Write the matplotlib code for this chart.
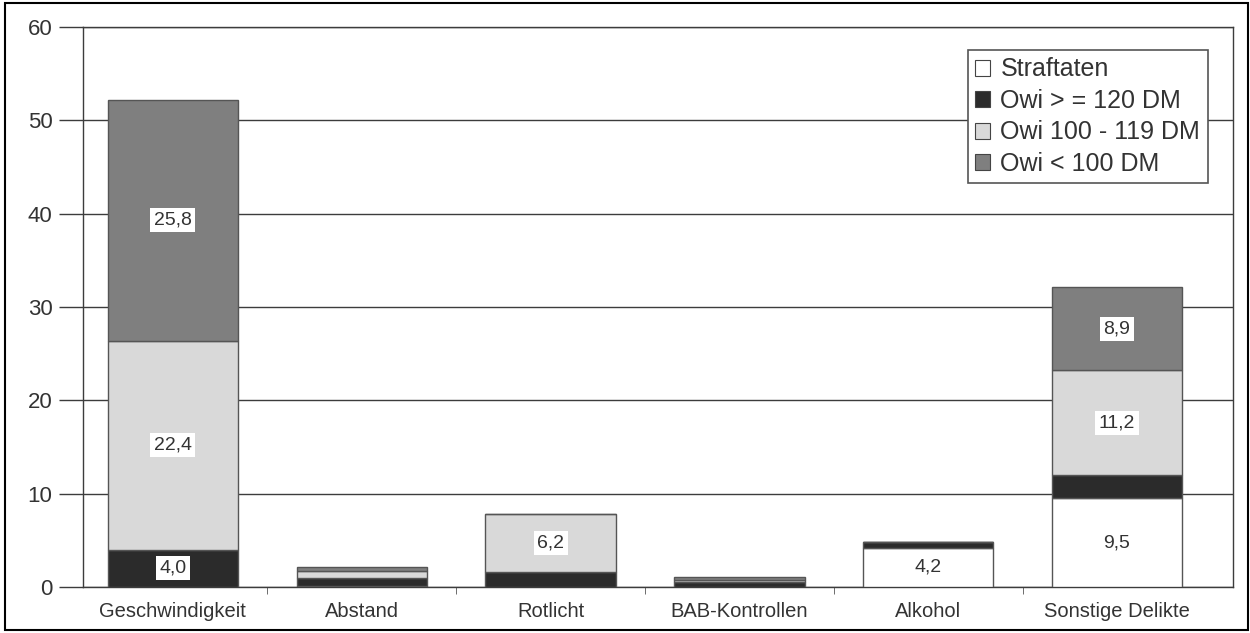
import matplotlib.pyplot as plt
import numpy as np
from matplotlib.patches import Rectangle, Patch

plt.rcParams['font.family'] = ['Liberation Sans', 'DejaVu Sans']

kategorien = ["Geschwindigkeit", "Abstand", "Rotlicht", "BAB-Kontrollen", "Alkohol", "Sonstige Delikte"]
serien = ["Straftaten", "Owi > = 120 DM", "Owi 100 - 119 DM", "Owi < 100 DM"]

straftaten = [0.0, 0.1, 0.0, 0.0, 4.2, 9.5]
owi_120 = [4.0, 0.9, 1.6, 0.5, 0.6, 2.5]
owi_100_119 = [22.4, 0.7, 6.2, 0.2, 0.0, 11.2]
owi_unter_100 = [25.8, 0.4, 0.0, 0.4, 0.0, 8.9]

# which segments get a value label
beschriftet = [
    [False, False, False, False, True, True],
    [True, False, False, False, False, False],
    [True, False, True, False, False, True],
    [True, False, False, False, False, True],
]

farben = ["#ffffff", "#2b2b2b", "#d9d9d9", "#7f7f7f"]

fig = plt.figure(figsize=(12.5, 6.33), dpi=100)
ax = fig.add_axes([0.0664, 0.0727, 0.92, 0.8846])

x = np.arange(len(kategorien))
breite = 0.69
unten = np.zeros(len(kategorien))
werte = [straftaten, owi_120, owi_100_119, owi_unter_100]

for i, (w, f) in enumerate(zip(werte, farben)):
    w = np.array(w)
    ax.bar(x, w, breite, bottom=unten, color=f, edgecolor="#555555",
           linewidth=1.0, zorder=3)
    for j in range(len(x)):
        if beschriftet[i][j]:
            txt = f"{w[j]:.1f}".replace(".", ",")
            ax.text(x[j], unten[j] + w[j] / 2, txt, ha="center", va="center",
                    fontsize=14, color="#333333", zorder=4,
                    bbox=dict(facecolor="white", edgecolor="none", pad=2.5))
    unten += w

ax.set_ylim(0, 60)
ax.set_xlim(-0.476, 5.614)
ax.set_yticks(range(0, 61, 10))
ax.yaxis.grid(True, color="#3c3c3c", linewidth=1.0, zorder=0)
ax.tick_params(axis="y", direction="out", length=17, width=1.0,
               color="#3c3c3c", labelsize=16, labelcolor="#333333", pad=5)

ax.set_xticks(x)
ax.set_xticklabels(kategorien)
ax.set_xticks(x[:-1] + 0.5, minor=True)
ax.tick_params(axis="x", which="major", length=0, labelsize=14.5,
               labelcolor="#333333", pad=11)
ax.tick_params(axis="x", which="minor", length=5, color="#555555")

for s in ax.spines.values():
    s.set_color("#3c3c3c")
    s.set_linewidth(1.0)

handles = [Patch(facecolor=f, edgecolor="#444444", linewidth=0.8) for f in farben]
leg = ax.legend(handles, serien, loc="upper right", bbox_to_anchor=(0.978, 0.959),
                borderaxespad=0, fontsize=18, handlelength=0.6, handleheight=0.6,
                handletextpad=0.4, labelspacing=0.3, borderpad=0.3,
                fancybox=False, framealpha=1, edgecolor="#555555")
leg.get_frame().set_linewidth(1.2)
for t in leg.get_texts():
    t.set_color("#333333")

# frame around the whole figure
fig.add_artist(Rectangle((0.004, 0.005), 0.994, 0.99, transform=fig.transFigure,
                         fill=False, edgecolor="black", linewidth=1.5))

fig.savefig("out.png", dpi=100)
